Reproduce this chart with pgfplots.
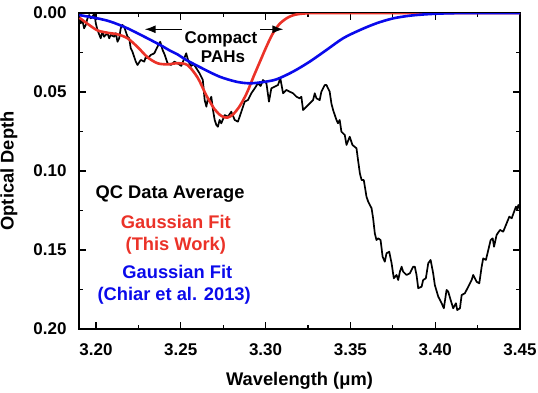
\documentclass[border=0pt]{standalone}
\usepackage{fontspec}
\setmainfont{Liberation Sans}
\usepackage{pgfplots}
\pgfplotsset{compat=1.18}
\usetikzlibrary{arrows.meta}
\definecolor{fitred}{RGB}{235,50,40}
\definecolor{fitblue}{RGB}{10,10,235}
\newcommand{\lbl}{\fontsize{17}{20}\selectfont\bfseries}
\newcommand{\biglbl}{\fontsize{18.3}{21}\selectfont\bfseries}
\begin{document}
\begin{tikzpicture}
\useasboundingbox (-79pt,-64pt) rectangle (459pt,329pt);
\begin{axis}[
  scale only axis, width=441pt, height=316pt,
  at={(0,0)}, anchor=south west,
  xmin=3.19, xmax=3.45, ymin=0, ymax=0.2, y dir=reverse,
  xtick={3.20,3.25,3.30,3.35,3.40,3.45},
  ytick={0,0.05,0.10,0.15,0.20},
  minor tick num=1,
  tick align=inside,
  major tick length=7pt, minor tick length=4pt,
  every tick/.style={black, line width=1.3pt},
  axis line style={line width=1.5pt},
  /pgf/number format/assume math mode=true,
  tick label style={font=\lbl},
  xticklabel style={/pgf/number format/fixed, /pgf/number format/fixed zerofill, /pgf/number format/precision=2, anchor=center, yshift=-21pt},
  yticklabel style={/pgf/number format/fixed, /pgf/number format/fixed zerofill, /pgf/number format/precision=2, anchor=east, inner sep=0pt, xshift=-12.3pt},
  xlabel={Wavelength (μm)},
  ylabel={Optical Depth},
  xlabel style={at={(axis description cs:0.5,-0.165)}, anchor=center, font=\biglbl},
  ylabel style={at={(axis description cs:-0.159,0.5)}, anchor=center, inner sep=0pt, font=\biglbl},
]
\addplot[black, line width=1.7pt, line join=round] coordinates {
(3.1903,0.0023) (3.1910,0.0065) (3.1920,0.0044) (3.1930,0.0097) (3.1940,0.0076)
(3.1950,0.0034) (3.1960,0.0013) (3.1969,0.0034) (3.1979,0.0023) (3.1991,0.0003)
(3.1999,0.0065) (3.2009,0.0108) (3.2028,0.0160) (3.2038,0.0118) (3.2048,0.0150)
(3.2068,0.0128) (3.2078,0.0160) (3.2087,0.0139) (3.2107,0.0150) (3.2117,0.0128)
(3.2127,0.0182) (3.2137,0.0160) (3.2146,0.0097) (3.2156,0.0076) (3.2166,0.0087)
(3.2176,0.0118) (3.2186,0.0150) (3.2196,0.0160) (3.2205,0.0223) (3.2215,0.0245)
(3.2235,0.0308) (3.2245,0.0329) (3.2264,0.0297) (3.2285,0.0308) (3.2294,0.0277)
(3.2304,0.0287) (3.2323,0.0266) (3.2344,0.0255) (3.2363,0.0213) (3.2379,0.0182)
(3.2393,0.0234) (3.2406,0.0266) (3.2422,0.0318) (3.2442,0.0329) (3.2462,0.0308)
(3.2481,0.0318) (3.2503,0.0335) (3.2517,0.0297) (3.2532,0.0255) (3.2546,0.0310)
(3.2562,0.0335) (3.2576,0.0323) (3.2592,0.0350) (3.2611,0.0382) (3.2630,0.0424)
(3.2641,0.0551) (3.2651,0.0593) (3.2660,0.0538) (3.2670,0.0561) (3.2680,0.0530)
(3.2690,0.0614) (3.2700,0.0677) (3.2710,0.0709) (3.2719,0.0720) (3.2729,0.0677)
(3.2739,0.0698) (3.2759,0.0646) (3.2778,0.0656) (3.2798,0.0625) (3.2818,0.0677)
(3.2837,0.0688) (3.2857,0.0625) (3.2877,0.0561) (3.2896,0.0551) (3.2916,0.0508)
(3.2936,0.0477) (3.2955,0.0445) (3.2971,0.0462) (3.2985,0.0424) (3.3005,0.0445)
(3.3020,0.0561) (3.3034,0.0477) (3.3054,0.0466) (3.3073,0.0456) (3.3087,0.0413)
(3.3103,0.0508) (3.3123,0.0487) (3.3142,0.0498) (3.3162,0.0508) (3.3182,0.0530)
(3.3201,0.0540) (3.3211,0.0530) (3.3221,0.0614) (3.3241,0.0593) (3.3260,0.0572)
(3.3280,0.0551) (3.3290,0.0508) (3.3300,0.0540) (3.3319,0.0551) (3.3329,0.0498)
(3.3349,0.0456) (3.3359,0.0456) (3.3378,0.0498) (3.3388,0.0572) (3.3398,0.0614)
(3.3418,0.0677) (3.3427,0.0698) (3.3437,0.0677) (3.3447,0.0751) (3.3467,0.0772)
(3.3477,0.0835) (3.3496,0.0783) (3.3512,0.0835) (3.3536,0.0856) (3.3545,0.0930)
(3.3556,0.1015) (3.3566,0.1057) (3.3579,0.1057) (3.3595,0.1163) (3.3605,0.1194)
(3.3625,0.1236) (3.3634,0.1299) (3.3644,0.1394) (3.3654,0.1437) (3.3664,0.1426)
(3.3678,0.1437) (3.3690,0.1542) (3.3703,0.1574) (3.3713,0.1521) (3.3729,0.1511)
(3.3743,0.1584) (3.3756,0.1679) (3.3772,0.1658) (3.3782,0.1690) (3.3792,0.1637)
(3.3802,0.1606) (3.3811,0.1637) (3.3831,0.1658) (3.3851,0.1647) (3.3870,0.1606)
(3.3880,0.1606) (3.3890,0.1658) (3.3900,0.1742) (3.3920,0.1732) (3.3929,0.1690)
(3.3945,0.1679) (3.3959,0.1584) (3.3973,0.1563) (3.3988,0.1647) (3.3998,0.1722)
(3.4018,0.1795) (3.4038,0.1837) (3.4051,0.1869) (3.4067,0.1753) (3.4077,0.1764)
(3.4091,0.1816) (3.4106,0.1869) (3.4122,0.1837) (3.4130,0.1880) (3.4146,0.1869)
(3.4156,0.1785) (3.4175,0.1774) (3.4195,0.1732) (3.4215,0.1690) (3.4224,0.1658)
(3.4244,0.1701) (3.4260,0.1711) (3.4274,0.1606) (3.4283,0.1553) (3.4299,0.1563)
(3.4313,0.1500) (3.4327,0.1437) (3.4339,0.1426) (3.4347,0.1479) (3.4362,0.1405)
(3.4382,0.1373) (3.4401,0.1384) (3.4417,0.1342) (3.4437,0.1289) (3.4451,0.1299)
(3.4465,0.1258) (3.4476,0.1226) (3.4484,0.1247) (3.4490,0.1215) (3.4497,0.1234)
};
\addplot[fitred, line width=2.6pt, smooth] coordinates {
(3.1903,0.0030) (3.1950,0.0068) (3.2009,0.0110) (3.2068,0.0125) (3.2127,0.0135)
(3.2186,0.0160) (3.2245,0.0215) (3.2304,0.0280) (3.2363,0.0318) (3.2422,0.0325)
(3.2481,0.0318) (3.2540,0.0330) (3.2600,0.0410) (3.2650,0.0520) (3.2700,0.0610)
(3.2740,0.0652) (3.2775,0.0662) (3.2810,0.0640) (3.2850,0.0585) (3.2890,0.0505)
(3.2930,0.0400) (3.2970,0.0300) (3.3005,0.0213) (3.3040,0.0135) (3.3080,0.0072)
(3.3123,0.0034) (3.3160,0.0015) (3.3200,0.0006) (3.3260,0.0001) (3.3320,0.0000)
(3.3900,0.0000) (3.4500,0.0000)
};
\addplot[fitblue, line width=2.6pt, smooth] coordinates {
(3.1901,0.0013) (3.2009,0.0034) (3.2087,0.0055) (3.2186,0.0097) (3.2285,0.0150)
(3.2383,0.0205) (3.2434,0.0237) (3.2481,0.0262) (3.2532,0.0297) (3.2630,0.0352)
(3.2729,0.0403) (3.2828,0.0435) (3.2906,0.0445) (3.2985,0.0437) (3.3064,0.0420)
(3.3162,0.0371) (3.3260,0.0308) (3.3359,0.0234) (3.3457,0.0160) (3.3556,0.0108)
(3.3654,0.0065) (3.3752,0.0034) (3.3851,0.0017) (3.3949,0.0008) (3.4045,0.0003)
(3.4200,0.0000) (3.4500,0.0000)
};
\draw[{Latex[length=11pt,width=8pt]}-{Latex[length=11pt,width=8pt]}, line width=1.4pt]
  (axis cs:3.2287,0.0103) -- (axis cs:3.3105,0.0103);
\node[font=\lbl, fill=white, inner sep=3pt] at (axis cs:3.2737,0.0168) {Compact};
\node[font=\lbl] at (axis cs:3.2749,0.0277) {PAHs};
\node[font=\biglbl, black] at (axis cs:3.2437,0.1146) {QC Data Average};
\node[font=\biglbl, text=fitred] at (axis cs:3.2471,0.1321) {Gaussian Fit};
\node[font=\biglbl, text=fitred] at (axis cs:3.2471,0.1473) {(This Work)};
\node[font=\biglbl, text=fitblue] at (axis cs:3.2480,0.1637) {Gaussian Fit};
\node[font=\biglbl, text=fitblue] at (axis cs:3.2461,0.1789) {(Chiar et al. 2013)};
\end{axis}
\end{tikzpicture}
\end{document}
